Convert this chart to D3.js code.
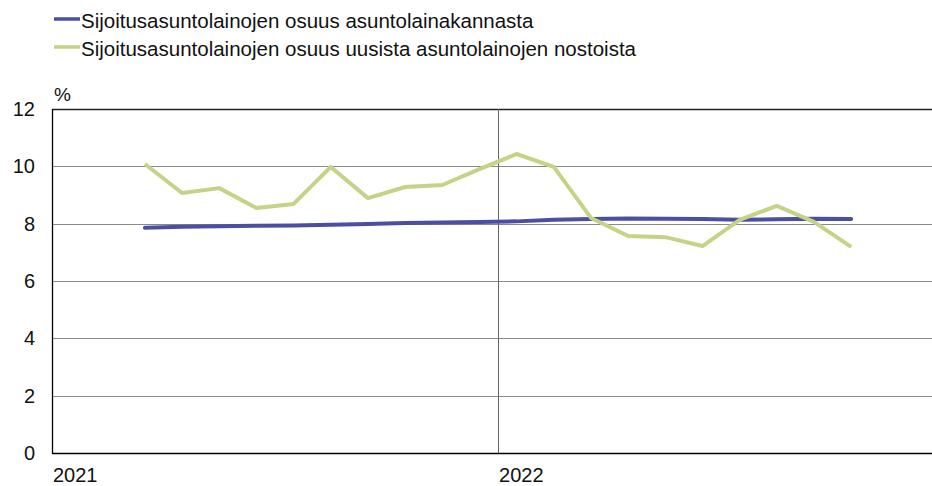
<!DOCTYPE html>
<html>
<head>
<meta charset="utf-8">
<script src="https://cdn.jsdelivr.net/npm/d3@7"></script>
<style>
  body { margin: 0; background: #fff; }
  svg { display: block; font-family: "Liberation Sans", Arial, sans-serif; }
</style>
</head>
<body>
<svg id="chart" width="932" height="486"></svg>
<script>
  "use strict";

  // months since Jan 2021 (0 = Jan 2021), Mar 2021 .. Oct 2022
  var months = [2, 3, 4, 5, 6, 7, 8, 9, 10, 11, 12, 13, 14, 15, 16, 17, 18, 19, 20, 21];
  var stockShare = [7.86, 7.89, 7.91, 7.93, 7.94, 7.96, 7.99, 8.02, 8.04, 8.06,
                    8.08, 8.14, 8.16, 8.18, 8.17, 8.16, 8.14, 8.15, 8.17, 8.16];
  var newShare = [10.08, 9.07, 9.24, 8.55, 8.69, 9.98, 8.89, 9.28, 9.35, 9.9,
                  10.43, 9.98, 8.2, 7.57, 7.53, 7.22, 8.13, 8.62, 8.06, 7.19];
  var yTicks = [0, 2, 4, 6, 8, 10, 12];
  var years = [{ label: "2021", m: 0 }, { label: "2022", m: 12 }];
  var seriesNames = [
    "Sijoitusasuntolainojen osuus asuntolainakannasta",
    "Sijoitusasuntolainojen osuus uusista asuntolainojen nostoista"
  ];
  var colors = ["#4a4fa3", "#c5d387"];

  (function () {
    var svg = d3.select("#chart");
    var plotLeft = 52, plotTop = 109, plotBottom = 453, plotRight = 932;

    var x = d3.scaleLinear().domain([0, 24]).range([plotLeft, plotLeft + 24 * 37.17]);
    var y = d3.scaleLinear().domain([0, 12]).range([plotBottom, plotTop]);

    // horizontal grid
    svg.append("g")
      .selectAll("line")
      .data(yTicks.filter(function (d) { return d > 0; }))
      .enter()
      .append("line")
      .attr("x1", plotLeft)
      .attr("x2", plotRight)
      .attr("y1", function (d) { return Math.round(y(d)) + 0.5; })
      .attr("y2", function (d) { return Math.round(y(d)) + 0.5; })
      .attr("stroke", function (d) { return d === 12 ? "#222" : "#8a8a8a"; })
      .attr("stroke-width", function (d) { return d === 12 ? 1.3 : 1; });

    // year separator
    svg.append("g")
      .selectAll("line")
      .data(years.filter(function (d) { return d.m > 0; }))
      .enter()
      .append("line")
      .attr("x1", function (d) { return Math.round(x(d.m)) + 0.5; })
      .attr("x2", function (d) { return Math.round(x(d.m)) + 0.5; })
      .attr("y1", plotTop)
      .attr("y2", plotBottom)
      .attr("stroke", "#666")
      .attr("stroke-width", 1);

    // axis lines
    svg.append("line")
      .attr("x1", plotLeft + 0.5).attr("x2", plotLeft + 0.5)
      .attr("y1", plotTop).attr("y2", plotBottom + 0.5)
      .attr("stroke", "#000").attr("stroke-width", 1.3);
    svg.append("line")
      .attr("x1", plotLeft).attr("x2", plotRight)
      .attr("y1", plotBottom + 0.5).attr("y2", plotBottom + 0.5)
      .attr("stroke", "#000").attr("stroke-width", 1.3);

    // y tick labels
    svg.append("g")
      .selectAll("text")
      .data(yTicks)
      .enter()
      .append("text")
      .attr("x", 35)
      .attr("y", function (d) { return y(d); })
      .attr("text-anchor", "end")
      .attr("dominant-baseline", "central")
      .style("font-size", "20px")
      .attr("fill", "#111")
      .text(function (d) { return d; });

    svg.append("text")
      .attr("x", 54)
      .attr("y", 101)
      .style("font-size", "19px")
      .attr("fill", "#111")
      .text("%");

    // year labels
    svg.append("g")
      .selectAll("text")
      .data(years)
      .enter()
      .append("text")
      .attr("x", function (d) { return x(d.m) + 1; })
      .attr("y", 482)
      .style("font-size", "20px")
      .attr("fill", "#111")
      .text(function (d) { return d.label; });

    // series lines
    var line = d3.line()
      .x(function (d) { return x(d[0] + 0.5); })
      .y(function (d) { return y(d[1]); });

    [stockShare, newShare].forEach(function (vals, i) {
      var pts = months.map(function (m, j) { return [m, vals[j]]; });
      svg.append("path")
        .datum(pts)
        .attr("d", line)
        .attr("fill", "none")
        .attr("stroke", colors[i])
        .attr("stroke-width", 4)
        .attr("stroke-linejoin", "round")
        .attr("stroke-linecap", i === 0 ? "round" : "butt");
    });

    // legend
    var legend = svg.append("g")
      .selectAll("g")
      .data(seriesNames)
      .enter()
      .append("g")
      .attr("transform", function (d, i) { return "translate(54," + (19 + i * 28) + ")"; });

    legend.append("line")
      .attr("x1", 0).attr("x2", 26)
      .attr("y1", 0).attr("y2", 0)
      .attr("stroke", function (d, i) { return colors[i]; })
      .attr("stroke-width", 3.5);

    legend.append("text")
      .attr("x", 27)
      .attr("y", 1)
      .attr("dominant-baseline", "central")
      .style("font-size", "20.5px")
      .attr("fill", "#111")
      .text(function (d) { return d; });
  })();
</script>
</body>
</html>
